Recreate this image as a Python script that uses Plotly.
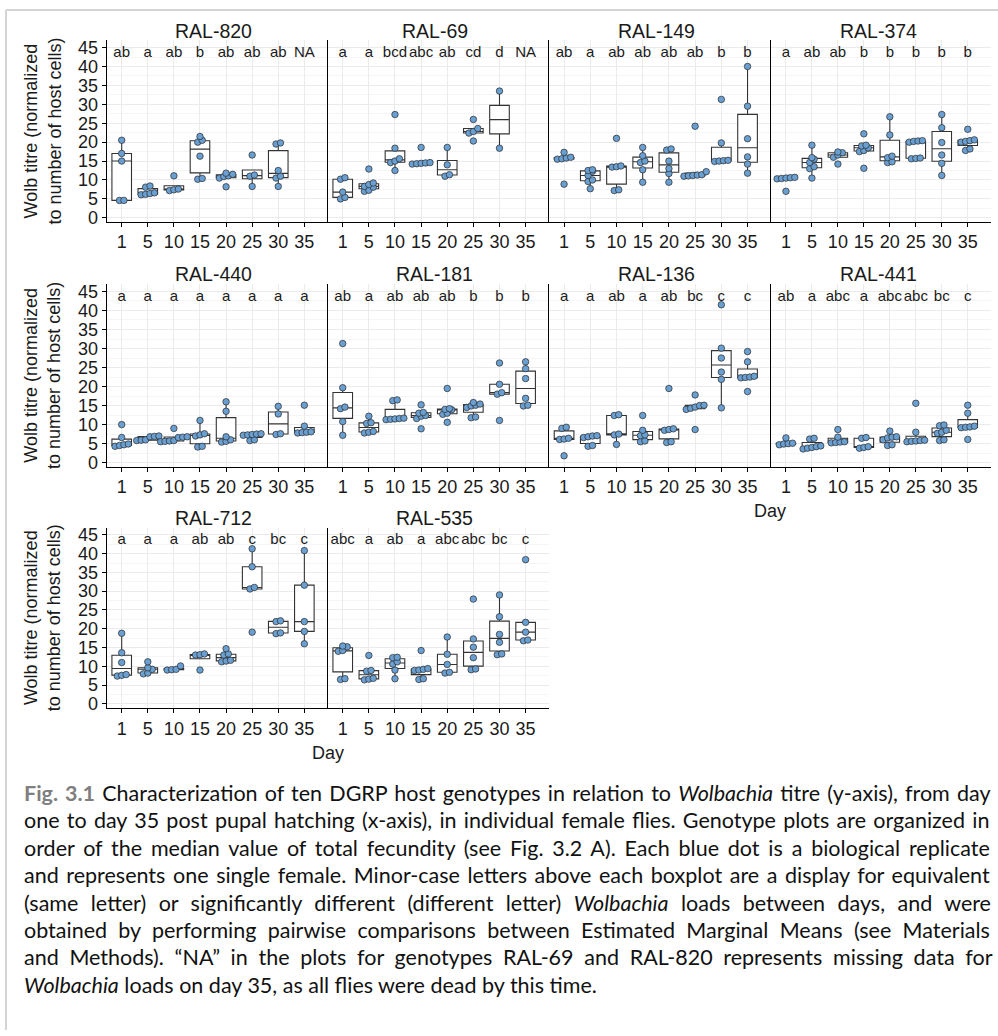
import numpy as np
import plotly.graph_objects as go

FONT = "Liberation Sans, Arial, sans-serif"
CAP_FONT = "Lato, sans-serif"

DAYS = ["1", "5", "10", "15", "20", "25", "30", "35"]

# ---- data: Wolbachia titre per day (one list per day, None = missing) ----
RAL_820 = [[4.6, 4.6, 15.0, 17.0, 20.5], [6.1, 6.2, 6.4, 6.6, 8.1, 8.4], [7.2, 7.4, 7.6, 11.1],
           [10.2, 10.4, 16.3, 20.0, 20.5, 21.5], [8.2, 10.5, 10.9, 11.1, 11.5, 11.8],
           [8.3, 11.0, 11.3, 16.6], [8.3, 10.5, 11.0, 12.5, 19.5, 19.8], None]
LET_820 = ["ab", "a", "ab", "b", "ab", "ab", "ab", "NA"]

RAL_69 = [[5.0, 5.4, 6.8, 10.2, 10.6], [7.0, 7.3, 8.1, 8.3, 8.8, 9.2, 12.9],
          [12.5, 14.6, 15.0, 15.6, 18.4, 27.3], [14.2, 14.3, 14.4, 14.5, 14.6, 18.6],
          [11.0, 11.4, 14.0, 18.6], [20.3, 22.4, 22.8, 23.6, 26.0], [18.4, 33.5], None]
LET_69 = ["a", "a", "bcd", "abc", "ab", "cd", "d", "NA"]

RAL_149 = [[8.9, 15.5, 15.6, 15.8, 16.0, 17.3], [7.7, 9.6, 10.0, 11.2, 12.3, 12.5, 12.7],
           [7.2, 7.4, 13.4, 13.5, 13.7, 21.0], [9.4, 12.7, 14.6, 15.0, 16.4, 18.6],
           [9.4, 11.7, 13.0, 15.0, 17.9, 18.2], [11.0, 11.1, 11.2, 11.3, 11.4, 12.2, 24.2],
           [14.9, 15.0, 15.1, 15.2, 19.8, 31.3], [11.8, 14.2, 16.1, 20.9, 29.5, 40.0]]
LET_149 = ["ab", "a", "ab", "ab", "ab", "ab", "b", "b"]

RAL_374 = [[7.0, 10.3, 10.4, 10.5, 10.6, 10.7], [10.5, 13.0, 13.5, 14.6, 15.5, 15.9, 19.2],
           [14.2, 16.0, 16.6, 17.2, 17.4], [13.1, 17.5, 17.8, 18.5, 19.0, 19.2, 22.2],
           [14.6, 14.8, 15.9, 16.3, 21.9, 26.7], [15.6, 15.7, 15.8, 20.0, 20.2, 20.3, 20.4],
           [11.2, 14.4, 16.6, 19.9, 23.8, 27.3], [17.8, 18.2, 20.0, 20.2, 20.4, 20.6, 23.4]]
LET_374 = ["a", "ab", "ab", "b", "b", "b", "b", "b"]

RAL_440 = [[4.3, 4.5, 4.7, 4.9, 6.6, 10.0], [5.8, 5.9, 6.0, 6.8, 6.9, 7.0],
           [5.5, 5.6, 5.7, 5.8, 6.6, 6.7, 6.8, 9.0], [4.1, 4.3, 7.0, 7.3, 7.6, 11.1],
           [5.4, 5.6, 6.0, 6.8, 13.5, 16.0], [5.8, 6.0, 7.2, 7.3, 7.4, 7.5, 7.6],
           [7.4, 7.6, 12.8, 14.8], [7.8, 7.9, 8.0, 8.1, 9.6, 15.1]]
LET_440 = ["a"] * 8

RAL_181 = [[7.2, 10.8, 14.2, 14.6, 19.7, 31.3], [7.8, 8.0, 8.2, 10.3, 10.5, 12.2],
           [11.3, 11.4, 11.5, 11.6, 11.7, 16.3, 16.5], [8.9, 11.6, 12.2, 12.4, 13.0, 13.2, 15.2],
           [10.6, 12.7, 13.0, 13.9, 14.0, 14.2, 19.5], [11.8, 12.0, 14.5, 14.9, 15.1, 15.4, 15.8],
           [11.1, 18.0, 18.4, 20.6, 26.2], [14.9, 15.1, 16.9, 22.1, 24.7, 26.5]]
LET_181 = ["ab", "a", "ab", "ab", "ab", "b", "b", "b"]

RAL_136 = [[1.8, 6.1, 6.2, 6.4, 9.0, 9.3], [4.3, 4.5, 6.6, 6.8, 7.0, 7.1],
           [4.8, 7.3, 7.5, 12.4, 12.6], [5.5, 5.7, 7.1, 7.3, 8.5, 12.4],
           [5.3, 5.5, 8.5, 8.7, 8.9, 19.5], [8.7, 14.0, 14.3, 14.6, 15.0, 15.1, 17.8],
           [14.4, 21.9, 23.8, 27.5, 30.1, 41.5], [18.7, 22.3, 22.4, 22.5, 22.7, 26.5, 29.2]]
LET_136 = ["a", "a", "ab", "a", "ab", "bc", "c", "c"]

RAL_441 = [[4.7, 4.9, 5.0, 5.1, 6.5], [3.6, 3.8, 4.0, 4.2, 4.4, 6.2, 6.4],
           [5.2, 5.3, 5.4, 5.5, 6.7, 8.7], [3.8, 4.0, 4.2, 6.4, 6.6],
           [4.5, 4.7, 6.0, 6.5, 6.7, 6.8, 8.3], [5.5, 5.6, 5.7, 5.8, 5.9, 8.0, 15.6],
           [5.8, 6.0, 7.7, 8.0, 8.5, 9.7, 9.9], [6.1, 9.2, 9.3, 9.4, 9.6, 13.0, 15.1]]
LET_441 = ["ab", "a", "abc", "a", "abc", "abc", "bc", "c"]

RAL_712 = [[7.4, 7.6, 7.8, 11.0, 13.6, 18.8], [8.0, 8.2, 9.2, 9.6, 11.2], [9.0, 9.1, 9.2, 10.1],
           [9.0, 13.0, 13.1, 13.3], [11.2, 11.4, 11.6, 13.0, 13.3, 14.7],
           [19.1, 30.6, 31.0, 36.5, 41.3], [18.7, 18.9, 21.9, 22.1], [16.0, 19.3, 21.9, 31.6, 40.8]]
LET_712 = ["a", "a", "a", "ab", "ab", "c", "bc", "c"]

RAL_535 = [[6.5, 6.7, 14.0, 14.2, 15.2, 15.4], [6.4, 6.6, 6.8, 8.7, 8.9, 12.9],
           [6.7, 9.0, 10.6, 11.2, 12.3, 12.4], [6.5, 6.7, 8.9, 9.0, 9.2, 9.4, 14.2],
           [8.2, 8.4, 10.5, 13.2, 17.8], [9.1, 9.3, 12.3, 15.1, 17.3, 27.9],
           [13.1, 13.3, 16.4, 18.5, 23.2, 29.0], [16.8, 17.0, 19.1, 21.7, 38.4]]
LET_535 = ["abc", "a", "ab", "a", "abc", "abc", "bc", "c"]

# (title, values, letters, row, col)
PANELS = [
    ("RAL-820", RAL_820, LET_820, 0, 0), ("RAL-69", RAL_69, LET_69, 0, 1),
    ("RAL-149", RAL_149, LET_149, 0, 2), ("RAL-374", RAL_374, LET_374, 0, 3),
    ("RAL-440", RAL_440, LET_440, 1, 0), ("RAL-181", RAL_181, LET_181, 1, 1),
    ("RAL-136", RAL_136, LET_136, 1, 2), ("RAL-441", RAL_441, LET_441, 1, 3),
    ("RAL-712", RAL_712, LET_712, 2, 0), ("RAL-535", RAL_535, LET_535, 2, 1),
]

# ---- layout geometry (pixels) ----
W, H = 998, 1036
COL_L = [106.7, 327.7, 549.0, 771.0]
COL_W = [221.0, 221.3, 222.0, 220.0]
ROWS = [(37.7, 220.7), (283.7, 467.7), (529.3, 711.0)]
TITLE_Y = [28.0, 273.5, 519.5]
YRANGE = [-1.05, 46.9]
XRANGE = [-0.575, 7.895]
LETTER_Y = 43.6


def fx(px):
    return px / W


def fy(py):
    return 1 - py / H


def box_stats(vals):
    a = np.sort(np.asarray(vals, float))
    q1, med, q3 = np.percentile(a, [25, 50, 75])
    iqr = q3 - q1
    lo = a[a >= q1 - 1.5 * iqr].min()
    hi = a[a <= q3 + 1.5 * iqr].max()
    return q1, med, q3, lo, hi


def dot_layout(vals, gap=1.3, pitch=0.17):
    v = np.sort(np.asarray(vals, float))
    groups, cur = [], [0]
    for i in range(1, len(v)):
        if v[i] - v[cur[0]] < gap:
            cur.append(i)
        else:
            groups.append(cur)
            cur = [i]
    groups.append(cur)
    off = np.zeros(len(v))
    for g in groups:
        n = len(g)
        for k, i in enumerate(g):
            off[i] = (k - (n - 1) / 2) * pitch
    return v, off


fig = go.Figure()
layout = {}
annotations = []

for p, (title, data, letters, r, c) in enumerate(PANELS):
    k = "" if p == 0 else str(p + 1)
    xa, ya = "x" + k, "y" + k
    top, bot = ROWS[r]
    layout["xaxis" + k] = dict(
        domain=[fx(COL_L[c]), fx(COL_L[c] + COL_W[c])], anchor=ya, range=XRANGE,
        tickmode="array", tickvals=list(range(8)), ticktext=DAYS,
        showline=True, linecolor="black", linewidth=1.2,
        ticks="outside", ticklen=4, tickcolor="black", tickwidth=1,
        showgrid=True, gridcolor="#EBEBEB", gridwidth=1, zeroline=False,
        tickfont=dict(size=18, color="#1a1a1a", family=FONT), fixedrange=True,
    )
    first = (c == 0)
    layout["yaxis" + k] = dict(
        domain=[fy(bot), fy(top)], anchor=xa, range=YRANGE,
        tickmode="linear", tick0=0, dtick=5,
        showline=True, linecolor="black", linewidth=1.2,
        ticks="outside" if first else "", ticklen=4, tickcolor="black",
        showticklabels=first,
        showgrid=True, gridcolor="#EBEBEB", gridwidth=1, zeroline=False,
        minor=dict(dtick=2.5, showgrid=True, gridcolor="#F5F5F5", gridwidth=0.6),
        tickfont=dict(size=18, color="#1a1a1a", family=FONT), fixedrange=True,
    )

    xs, q1s, meds, q3s, los, his = [], [], [], [], [], []
    px_all, py_all = [], []
    for d, vals in enumerate(data):
        if not vals:
            continue
        q1, med, q3, lo, hi = box_stats(vals)
        xs.append(d); q1s.append(q1); meds.append(med); q3s.append(q3)
        los.append(lo); his.append(hi)
        v, off = dot_layout(vals)
        px_all += list(d + off)
        py_all += list(v)

    fig.add_trace(go.Box(
        x=xs, q1=q1s, median=meds, q3=q3s, lowerfence=los, upperfence=his,
        width=0.75, whiskerwidth=0, boxpoints=False, fillcolor="white",
        line=dict(color="#333333", width=1.1), xaxis=xa, yaxis=ya,
        hoverinfo="skip", showlegend=False,
    ))
    fig.add_trace(go.Scatter(
        x=px_all, y=py_all, mode="markers", xaxis=xa, yaxis=ya,
        marker=dict(size=6.5, color="#6A9FD2", line=dict(color="#2a2a2a", width=0.7)),
        hoverinfo="skip", showlegend=False,
    ))
    fig.add_trace(go.Scatter(
        x=list(range(8)), y=[LETTER_Y] * 8, text=letters, mode="text",
        textposition="middle center", xaxis=xa, yaxis=ya,
        textfont=dict(size=15, color="#1a1a1a", family=FONT),
        hoverinfo="skip", showlegend=False,
    ))

    annotations.append(dict(
        text=title, x=fx(COL_L[c] + 107), y=fy(TITLE_Y[r]), xref="paper", yref="paper",
        xanchor="center", yanchor="middle", showarrow=False,
        font=dict(size=19.5, color="#1a1a1a", family=FONT),
    ))

# y-axis titles, one per row
for top, bot in ROWS:
    annotations.append(dict(
        text="Wolb titre (normalized<br>to number of host cells)", textangle=-90,
        x=fx(42.5), y=fy((top + bot) / 2), xref="paper", yref="paper",
        xanchor="center", yanchor="middle", showarrow=False,
        font=dict(size=18, color="#1a1a1a", family=FONT),
    ))

# x-axis titles ("Day")
for xpx, ypx in [(770, 512), (328, 757)]:
    annotations.append(dict(
        text="Day", x=fx(xpx), y=fy(ypx), xref="paper", yref="paper",
        xanchor="center", yanchor="middle", showarrow=False,
        font=dict(size=18, color="#1a1a1a", family=FONT),
    ))

# caption (justified lines approximated by word spacing)
CAPTION = [
    '<span style="color:#7F7F7F"><b>Fig. 3.1</b></span> Characterization of ten DGRP host genotypes in relation to <i>Wolbachia</i> titre (y-axis), from day',
    "one to day 35 post pupal hatching (x-axis), in individual female flies. Genotype plots are organized in",
    "order of the median value of total fecundity (see Fig. 3.2 A). Each blue dot is a biological replicate",
    "and represents one single female. Minor-case letters above each boxplot are a display for equivalent",
    "(same letter) or significantly different (different letter) <i>Wolbachia</i> loads between days, and were",
    "obtained by performing pairwise comparisons between Estimated Marginal Means (see Materials",
    "and Methods). \u201cNA\u201d in the plots for genotypes RAL-69 and RAL-820 represents missing data for",
    "<i>Wolbachia</i> loads on day 35, as all flies were dead by this time.",
]
WORD_SP = [1.7, 1.75, 3.3, 2.1, 6.9, 5.8, 5.2, 0.0]
for i, line in enumerate(CAPTION):
    annotations.append(dict(
        text='<span style="word-spacing:%.2fpx">%s</span>' % (WORD_SP[i], line),
        x=fx(22), y=fy(797 + 27.6 * i), xref="paper", yref="paper",
        xanchor="left", yanchor="middle", showarrow=False,
        font=dict(size=21.5, color="#111111", family=CAP_FONT),
    ))

shapes = [
    dict(type="line", xref="paper", yref="paper", x0=fx(6), x1=1, y0=fy(7), y1=fy(7),
         line=dict(color="#D4D4D4", width=2)),
    dict(type="line", xref="paper", yref="paper", x0=fx(6), x1=fx(6), y0=fy(7), y1=0,
         line=dict(color="#D4D4D4", width=2)),
]

fig.update_layout(
    width=W, height=H, margin=dict(l=0, r=0, t=0, b=0),
    paper_bgcolor="white", plot_bgcolor="white", showlegend=False,
    annotations=annotations, shapes=shapes, font=dict(family=FONT, color="#1a1a1a"),
    **layout,
)

fig.write_html("out.html")
